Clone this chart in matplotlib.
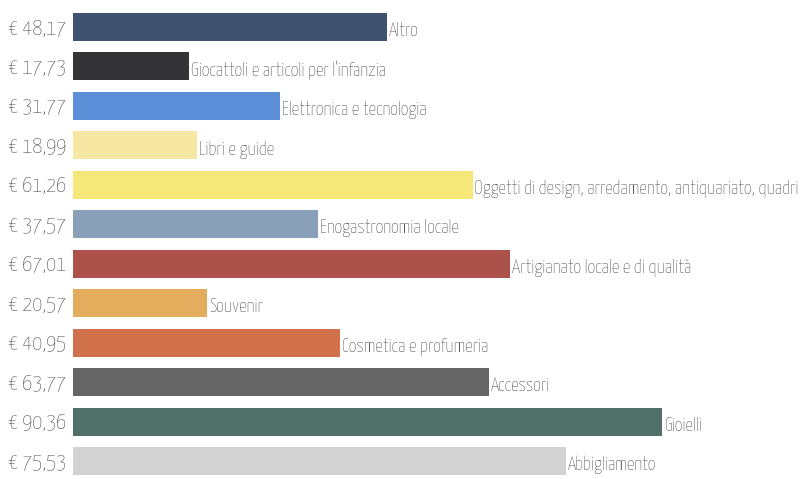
import matplotlib.pyplot as plt
from matplotlib import font_manager

categories = [
    "Altro",
    "Giocattoli e articoli per l'infanzia",
    "Elettronica e tecnologia",
    "Libri e guide",
    "Oggetti di design, arredamento, antiquariato, quadri",
    "Enogastronomia locale",
    "Artigianato locale e di qualità",
    "Souvenir",
    "Cosmetica e profumeria",
    "Accessori",
    "Gioielli",
    "Abbigliamento",
]
values = [48.17, 17.73, 31.77, 18.99, 61.26, 37.57, 67.01, 20.57, 40.95, 63.77, 90.36, 75.53]
colors = ["#3f5270", "#343436", "#5c8fd8", "#f6e7a2", "#f6e878", "#8aa0b8",
          "#ad514b", "#e4ad5e", "#d0714b", "#656565", "#51706a", "#d2d2d2"]

names = {f.name for f in font_manager.fontManager.ttflist}
wanted = ["Yanone Kaffeesatz", "Pathway Gothic One", "Advent Pro", "Economica",
          "Archivo Narrow", "Asap Condensed", "DejaVu Sans"]
fam = [f for f in wanted if f in names]
plt.rcParams['font.family'] = fam[:1] + ["DejaVu Sans"]

fig = plt.figure(figsize=(8.08, 4.79), dpi=100)
ax = fig.add_axes([73 / 808, 0, 1 - 73 / 808, 1])
ypos = list(range(len(values)))
ax.barh(ypos, values, height=0.71, color=colors)

for y, v, c in zip(ypos, values, categories):
    ax.text(v + 0.3, y + 0.1, c, ha='left', va='center', fontsize=13.5, color='#444444',
            fontweight='light')
    lbl = "€ " + f"{v:.2f}".replace('.', ',')
    ax.text(-1.0, y + 0.04, lbl, ha='right', va='center', fontsize=16, color='#444444',
            fontweight='light', clip_on=False)

ax.set_xlim(0, 112.7)
ax.set_ylim(11.456, -0.684)
ax.axis('off')
fig.savefig("out.png", dpi=100)
